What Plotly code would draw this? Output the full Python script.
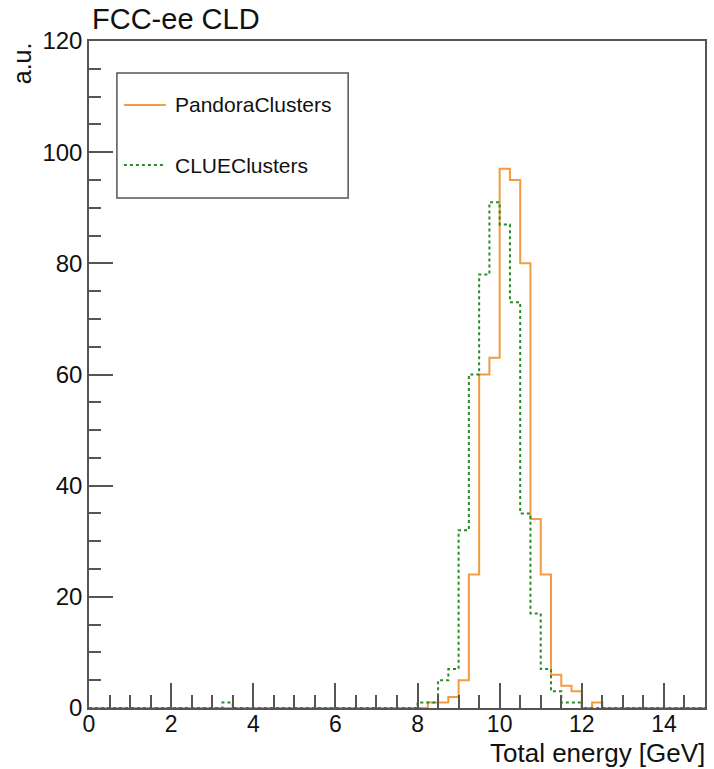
import numpy as np
import plotly.graph_objects as go

# Histogram binning: 60 bins of 0.25 GeV from 0 to 15
bin_lo = 0.0
bin_hi = 15.0
n_bins = 60

# Non-empty bins (lower bin edge in GeV -> content)
pandora_bins = [8.25, 8.5, 8.75, 9.0, 9.25, 9.5, 9.75, 10.0, 10.25, 10.5, 10.75, 11.0, 11.25, 11.5, 11.75, 12.25]
pandora_vals = [1, 1, 2, 5, 24, 60, 63, 97, 95, 80, 34, 24, 6, 4, 3, 1]

clue_bins = [3.25, 8.0, 8.25, 8.5, 8.75, 9.0, 9.25, 9.5, 9.75, 10.0, 10.25, 10.5, 10.75, 11.0, 11.25, 11.5, 11.75]
clue_vals = [1, 1, 1, 5, 7, 32, 60, 78, 91, 87, 73, 35, 17, 7, 3, 1, 1]

series_names = ["PandoraClusters", "CLUEClusters"]
x_title = "Total energy [GeV]"
y_title = "a.u."
top_label = "FCC-ee CLD"

ORANGE = "#F29B41"
GREEN = "#2A8A2A"
FONT = "Liberation Sans, Arial, Helvetica, sans-serif"

edges = np.linspace(bin_lo, bin_hi, n_bins + 1)
width = (bin_hi - bin_lo) / n_bins


def fill(bins, vals):
    c = np.zeros(n_bins)
    for b, v in zip(bins, vals):
        c[int(round((b - bin_lo) / width))] = v
    return c


def step_xy(counts):
    x = list(edges)
    y = list(counts) + [counts[-1]]
    return x, y


fig = go.Figure()
px, py = step_xy(fill(pandora_bins, pandora_vals))
cx, cy = step_xy(fill(clue_bins, clue_vals))
fig.add_trace(go.Scatter(x=px, y=py, mode="lines", line=dict(color=ORANGE, width=2, shape="hv"),
                         name=series_names[0], showlegend=False))
fig.add_trace(go.Scatter(x=cx, y=cy, mode="lines", line=dict(color=GREEN, width=2, shape="hv", dash="dot"),
                         name=series_names[1], showlegend=False))

W, H = 714, 769
ml, mr, mt, mb = 89, 7, 41, 61
pw, ph = W - ml - mr, H - mt - mb


def px2x(p):
    return (p - ml) / pw


def px2y(p):
    return 1 - (p - mt) / ph


# Legend drawn manually (ROOT-style box)
box = dict(x0=117, x1=349, y0=73, y1=198)
fig.add_shape(type="rect", xref="paper", yref="paper",
              x0=px2x(box["x0"]), x1=px2x(box["x1"]), y0=px2y(box["y1"]), y1=px2y(box["y0"]),
              line=dict(color="#555555", width=1.5), fillcolor="white", layer="above")
for name, color, dash, yc in [(series_names[0], ORANGE, "solid", 105), (series_names[1], GREEN, "dot", 165)]:
    fig.add_shape(type="line", xref="paper", yref="paper",
                  x0=px2x(124), x1=px2x(166), y0=px2y(yc), y1=px2y(yc),
                  line=dict(color=color, width=2, dash=dash), layer="above")
    fig.add_annotation(text=name, xref="paper", yref="paper", x=px2x(173), y=px2y(yc),
                       xanchor="left", yanchor="middle", showarrow=False,
                       font=dict(family=FONT, size=21, color="#111111"))

fig.add_annotation(text=top_label, xref="paper", yref="paper", x=px2x(90), y=px2y(1),
                   xanchor="left", yanchor="top", showarrow=False,
                   font=dict(family=FONT, size=29, color="#111111"))
fig.add_annotation(text=y_title, xref="paper", yref="paper", x=px2x(6), y=px2y(40),
                   xanchor="left", yanchor="top", textangle=-90, showarrow=False,
                   font=dict(family=FONT, size=25, color="#111111"))
fig.add_annotation(text=x_title, xref="paper", yref="paper", x=px2x(708), y=px2y(769),
                   xanchor="right", yanchor="bottom", showarrow=False, borderpad=0,
                   font=dict(family=FONT, size=26, color="#111111"))

axis_common = dict(showline=True, linecolor="#555555", linewidth=1.5, mirror=True,
                   showgrid=False, zeroline=False, ticks="inside", tickcolor="#555555",
                   tickwidth=1.5)

fig.update_xaxes(range=[0, 15], dtick=2, tick0=0, ticklen=25, ticklabelstandoff=-5,
                 tickfont=dict(family=FONT, size=23, color="#111111"),
                 minor=dict(dtick=0.5, tick0=0, ticks="inside", ticklen=13, tickcolor="#555555", tickwidth=1.5),
                 **axis_common)
fig.update_yaxes(range=[0, 120], dtick=20, tick0=0, ticklen=24,
                 tickfont=dict(family=FONT, size=24, color="#111111"),
                 minor=dict(dtick=5, tick0=0, ticks="inside", ticklen=12, tickcolor="#555555", tickwidth=1.5),
                 **axis_common)

fig.update_layout(width=W, height=H, margin=dict(l=ml, r=mr, t=mt, b=mb),
                  plot_bgcolor="white", paper_bgcolor="white")

fig.write_html("out.html")
